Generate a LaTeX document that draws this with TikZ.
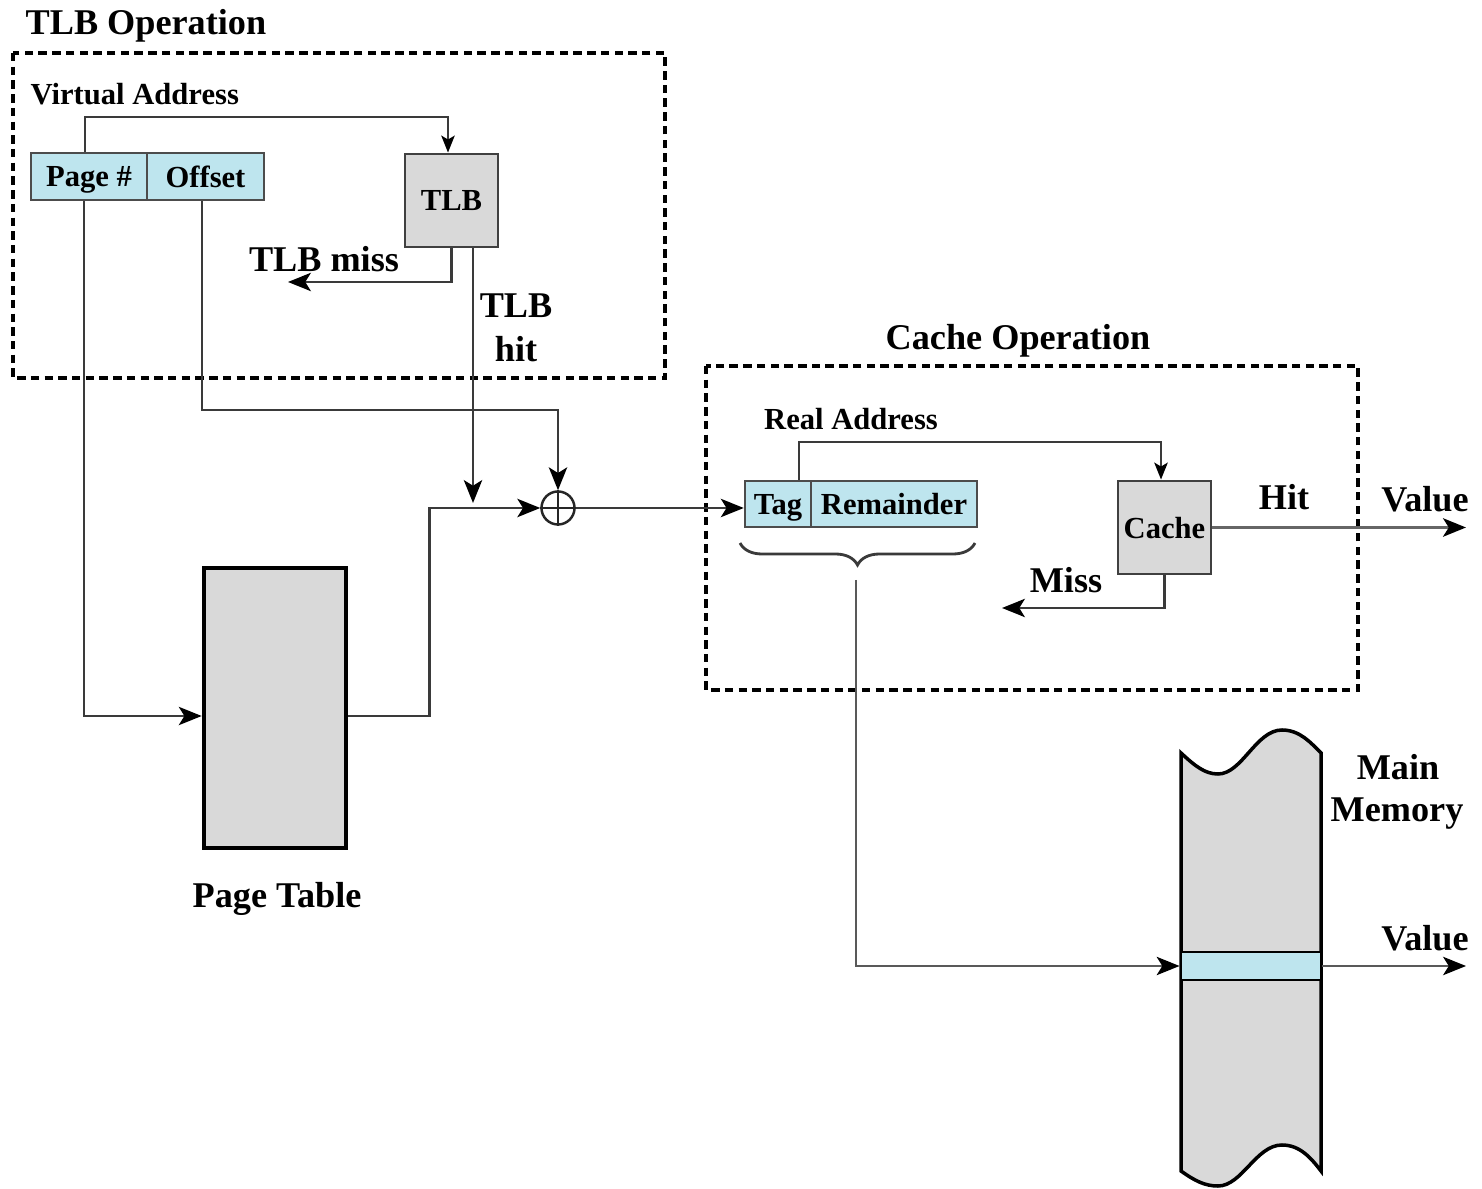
\documentclass[tikz,border=0pt]{standalone}
\usepackage{fontspec}
\setmainfont{Liberation Serif}
\usetikzlibrary{arrows.meta,decorations.pathreplacing}
\definecolor{cellblue}{HTML}{BEE5EE}
\definecolor{boxgray}{HTML}{D9D9D9}
\definecolor{linegray}{HTML}{3A3A3A}
\newcommand\fbig{\fontsize{10.3}{12}\selectfont\bfseries}
\newcommand\fsmall{\fontsize{8.7}{10}\selectfont\bfseries}
\begin{document}
\begin{tikzpicture}[x=0.01cm,y=-0.01cm,
  conn/.style={draw=linegray, line width=0.7pt},
  arr/.style={conn, -{Stealth[length=6.5pt,width=5.2pt,inset=1.6pt,color=black]}},
  sarr/.style={conn, -{Stealth[length=4.8pt,width=3.8pt,inset=1.1pt,color=black]}},
  dbox/.style={draw=black, line width=1.2pt, dash pattern=on 2.4pt off 1.5pt},
  cell/.style={draw=black!70, line width=0.7pt, fill=cellblue, inner sep=0pt, text depth=0pt, font=\fsmall},
  gbox/.style={draw=black!75, line width=0.8pt, fill=boxgray, inner sep=0pt, text depth=0pt, font=\fsmall},
  lbl/.style={inner sep=0pt}
]
\useasboundingbox (0,0) rectangle (1482,1189);

% dashed regions
\draw[dbox] (13,53) rectangle (665,378);
\draw[dbox] (706,366) rectangle (1358,690);

% titles
\node[lbl, anchor=base west, font=\fbig] (tlbop) at (25,35) {TLB Operation};
\node[lbl, anchor=base, font=\fbig] (cacheop) at (1018,350) {Cache Operation};
\node[lbl, anchor=base west, font=\fsmall] (va) at (30,105) {Virtual Address};
\node[lbl, anchor=base, font=\fsmall] (ra) at (851,430) {Real Address};

% virtual address
\node[cell, minimum width=1.16cm, minimum height=0.47cm] (page) at (89,176.5) {Page \#};
\node[cell, minimum width=1.17cm, minimum height=0.47cm] (off) at (205.5,176.5) {Offset};

% TLB
\node[gbox, minimum width=0.93cm, minimum height=0.93cm] (tlb) at (451.5,200.5) {TLB};
\node[lbl, anchor=base, font=\fbig] (tlbmiss) at (324,272) {TLB miss};
\node[lbl, anchor=base, font=\fbig] (tlbhitA) at (516,318) {TLB};
\node[lbl, anchor=base, font=\fbig] (tlbhitB) at (516,362) {hit};

% page table
\node[draw=black, line width=1.3pt, fill=boxgray, minimum width=1.42cm, minimum height=2.80cm, inner sep=0pt] (pt) at (275,708) {};
\node[lbl, anchor=base, font=\fbig] (ptlbl) at (277,907) {Page Table};

% adder
\node[circle, draw=black!85, line width=0.7pt, minimum size=0.33cm, inner sep=0pt, fill=white] (sum) at (558,508) {};
\draw[black!85, line width=0.7pt] (sum.north) -- (sum.south) (sum.west) -- (sum.east);

% real address
\node[cell, minimum width=0.66cm, minimum height=0.46cm] (tag) at (778,504) {Tag};
\node[cell, minimum width=1.66cm, minimum height=0.46cm] (rem) at (894,504) {Remainder};

% cache
\node[gbox, minimum width=0.93cm, minimum height=0.93cm] (cache) at (1164.5,527.5) {Cache};
\node[lbl, anchor=base, font=\fbig] (hit) at (1284,510) {Hit};
\node[lbl, anchor=base, font=\fbig] (valA) at (1425,512) {Value};
\node[lbl, anchor=base, font=\fbig] (miss) at (1066,593) {Miss};

% main memory
\filldraw[fill=boxgray, draw=black, line width=1pt]
  (1181,753) .. controls (1195,766) and (1205,774) .. (1218,774)
  .. controls (1242,774) and (1256,730) .. (1282,730)
  .. controls (1300,730) and (1311,743) .. (1321,753)
  -- (1321,1171)
  .. controls (1311,1158) and (1300,1145) .. (1282,1145)
  .. controls (1256,1145) and (1242,1186) .. (1218,1186)
  .. controls (1205,1186) and (1195,1181) .. (1181,1171) -- cycle;
\node[draw=black, line width=0.8pt, fill=cellblue, minimum width=1.40cm, minimum height=0.28cm, inner sep=0pt] (row) at (1251,966) {};
\node[lbl, anchor=base, font=\fbig] (mmA) at (1398,780) {Main};
\node[lbl, anchor=base, font=\fbig] (mmB) at (1397,822) {Memory};
\node[lbl, anchor=base, font=\fbig] (valB) at (1425,950) {Value};

% connectors
\draw[sarr] ([xshift=-0.04cm]page.north) -- ([xshift=-0.04cm]page.north |- 0,117) -| ([xshift=-0.035cm]tlb.north);
\draw[arr] ([xshift=-0.05cm]page.south) |- ([yshift=-0.08cm]pt.west);
\draw[arr] ([xshift=-0.035cm]off.south) -- ([xshift=-0.035cm]off.south |- 0,410) -| (sum.north);
\coordinate (missend) at (288,282);
\draw[arr] (tlb.south) |- (missend);
\coordinate (hitend) at (473,503);
\draw[arr] (tlb.south -| hitend) -- (hitend);
\draw[arr] ([yshift=-0.08cm]pt.east) -- ++(81,0) |- (sum.west);
\draw[arr] (sum.east) -- (sum.east -| tag.west);
\draw[sarr] ([xshift=0.21cm]tag.north) -- ++(0,-38) -| ([xshift=-0.035cm]cache.north);

\coordinate (bl) at (740,543);
\coordinate (br) at (975,543);
\draw[decorate, decoration={brace, mirror, amplitude=0.22cm}, draw=linegray, line width=0.8pt] (bl) -- (br);
\coordinate (btip) at (856,580);
\draw[arr, draw=black!65] (btip) |- (row.west);

\coordinate (hitout) at (1466,527);
\draw[arr, draw=black!60, line width=1pt] (cache.east) -- (cache.east -| hitout);
\coordinate (missout) at (1002,608);
\draw[arr] (cache.south) |- (missout);
\coordinate (memout) at (1466,966);
\draw[arr, draw=black!65] (row.east) -- (memout);
\end{tikzpicture}
\end{document}
